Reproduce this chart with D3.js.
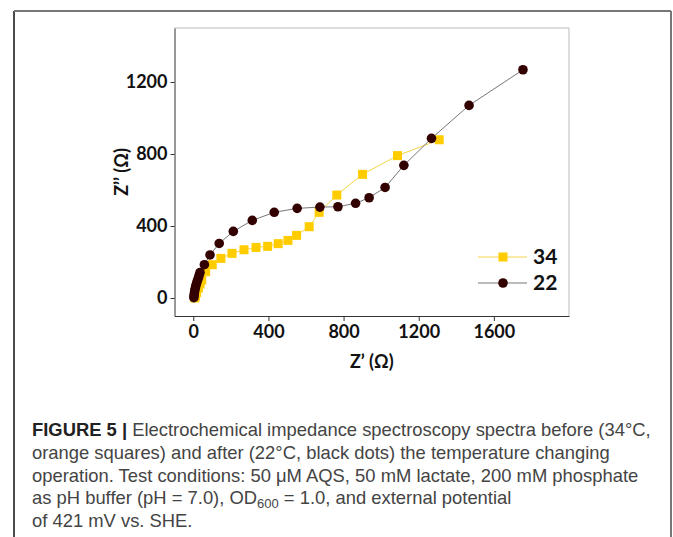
<!DOCTYPE html>
<html>
<head>
<meta charset="utf-8">
<script src="https://cdn.jsdelivr.net/npm/d3@7"></script>
<style>
  body { margin: 0; background: #fff; }
  svg { display: block; }
  .tick text { font-family: Lato, "Open Sans", sans-serif; font-weight: 700; font-size: 18px; fill: #111; }
  .axtitle { font-family: Lato, "Open Sans", sans-serif; font-weight: 700; font-size: 18px; fill: #111; }
  .leg { font-family: Lato, "Open Sans", sans-serif; font-weight: 700; font-size: 21px; fill: #111; }
  .cap { font-family: "Liberation Sans", Arial, sans-serif; font-size: 18.4px; fill: #444; }
</style>
</head>
<body>
<script>
// 34 °C, before (squares)
var re34 = [1309, 1087, 901, 764, 670, 617, 550, 504, 452, 396, 334, 270, 206, 147, 101, 66, 45, 36, 27, 18, 12, 8];
var im34 = [879, 791, 687, 572, 476, 396, 348, 320, 302, 287, 281, 268, 248, 220, 185, 146, 100, 78, 55, 30, 12, 0];

// 22 °C, after (dots)
var re22 = [1755, 1468, 1268, 1121, 1021, 936, 864, 770, 674, 553, 431, 314, 213, 138, 89, 59, 36, 31, 27, 22, 18, 14, 11, 8, 6, 4, 3];
var im22 = [1268, 1070, 887, 737, 614, 557, 526, 507, 505, 498, 476, 431, 370, 303, 239, 185, 142, 125, 111, 97, 83, 70, 56, 42, 28, 14, 2];

var xTicks = [0, 400, 800, 1200, 1600];
var yTicks = [0, 400, 800, 1200];

var caption = [
  [{t: 'FIGURE 5 | ', b: true}, {t: 'Electrochemical impedance spectroscopy spectra before (34°C,'}],
  [{t: 'orange squares) and after (22°C, black dots) the temperature changing'}],
  [{t: 'operation. Test conditions: 50 μM AQS, 50 mM lactate, 200 mM phosphate'}],
  [{t: 'as pH buffer (pH = 7.0), OD'}, {t: '600', sub: true}, {t: ' = 1.0, and external potential', after: true}],
  [{t: 'of 421 mV vs. SHE.'}]
];

var W = 673, H = 537;
var svg = d3.select('body').append('svg').attr('width', W).attr('height', H);
svg.append('rect').attr('width', W).attr('height', H).attr('fill', '#fff');

// outer figure border
svg.append('line').attr('x1', 14).attr('x2', 14).attr('y1', 11).attr('y2', H).attr('stroke', '#111').attr('stroke-width', 1.5);
svg.append('line').attr('x1', 14).attr('x2', 671).attr('y1', 11).attr('y2', 11).attr('stroke', '#777').attr('stroke-width', 2);
svg.append('line').attr('x1', 671).attr('x2', 671).attr('y1', 11).attr('y2', H).attr('stroke', '#777').attr('stroke-width', 2);

var pl = 174.5, pr = 569, pt = 28, pb = 316;

var x = d3.scaleLinear().domain([-100, 2000]).range([pl, pr]);
var y = d3.scaleLinear().domain([-100, 1500]).range([pb, pt]);

// frame
svg.append('line').attr('x1', pl).attr('x2', pr).attr('y1', pt).attr('y2', pt).attr('stroke', '#bbb');
svg.append('line').attr('x1', pr).attr('x2', pr).attr('y1', pt).attr('y2', pb).attr('stroke', '#bbb');

svg.append('g')
  .attr('transform', 'translate(0,' + pb + ')')
  .call(d3.axisBottom(x).tickValues(xTicks).tickFormat(d3.format('d')).tickSize(5).tickSizeOuter(0).tickPadding(4));
svg.append('g')
  .attr('transform', 'translate(' + pl + ',0)')
  .call(d3.axisLeft(y).tickValues(yTicks).tickFormat(d3.format('d')).tickSize(4).tickSizeOuter(0).tickPadding(3));
svg.selectAll('.domain, .tick line').attr('stroke', '#333');

svg.append('text').attr('class', 'axtitle')
  .attr('x', (pl + pr) / 2).attr('y', 368).attr('text-anchor', 'middle')
  .text('Z’ (Ω)');
svg.append('text').attr('class', 'axtitle')
  .attr('transform', 'translate(128,' + ((pt + pb) / 2) + ') rotate(-90)')
  .attr('text-anchor', 'middle')
  .text('Z’’ (Ω)');

var d34 = re34.map(function(v, i) { return [v, im34[i]]; });
var d22 = re22.map(function(v, i) { return [v, im22[i]]; });

var line = d3.line().x(function(d) { return x(d[0]); }).y(function(d) { return y(d[1]); });

svg.append('path').datum(d34).attr('d', line).attr('fill', 'none').attr('stroke', '#f2d54a').attr('stroke-width', 1);
svg.append('path').datum(d22).attr('d', line).attr('fill', 'none').attr('stroke', '#777').attr('stroke-width', 1);

var sq = 9;
svg.append('g').selectAll('rect').data(d34).enter().append('rect')
  .attr('x', function(d) { return x(d[0]) - sq / 2; })
  .attr('y', function(d) { return y(d[1]) - sq / 2; })
  .attr('width', sq).attr('height', sq)
  .attr('fill', '#ffcc00');

svg.append('g').selectAll('circle').data(d22).enter().append('circle')
  .attr('cx', function(d) { return x(d[0]); })
  .attr('cy', function(d) { return y(d[1]); })
  .attr('r', 4.8)
  .attr('fill', '#330000');

// legend
var leg = svg.append('g');
leg.append('line').attr('x1', 478).attr('x2', 527).attr('y1', 257).attr('y2', 257).attr('stroke', '#f2d54a');
leg.append('rect').attr('x', 503 - sq / 2).attr('y', 257 - sq / 2).attr('width', sq).attr('height', sq).attr('fill', '#ffcc00');
leg.append('text').attr('class', 'leg').attr('x', 533).attr('y', 264).text('34');
leg.append('line').attr('x1', 478).attr('x2', 527).attr('y1', 283).attr('y2', 283).attr('stroke', '#777');
leg.append('circle').attr('cx', 503).attr('cy', 283).attr('r', 4.8).attr('fill', '#330000');
leg.append('text').attr('class', 'leg').attr('x', 533).attr('y', 290).text('22');

// caption
caption.forEach(function(parts, i) {
  var t = svg.append('text').attr('class', 'cap').attr('x', 32).attr('y', 436 + i * 22.8);
  parts.forEach(function(p) {
    var s = t.append('tspan').text(p.t);
    if (p.b) s.style('font-weight', 700).style('fill', '#222');
    if (p.sub) s.attr('dy', 4).style('font-size', '13px');
    if (p.after) s.attr('dy', -4);
  });
});
</script>
</body>
</html>
